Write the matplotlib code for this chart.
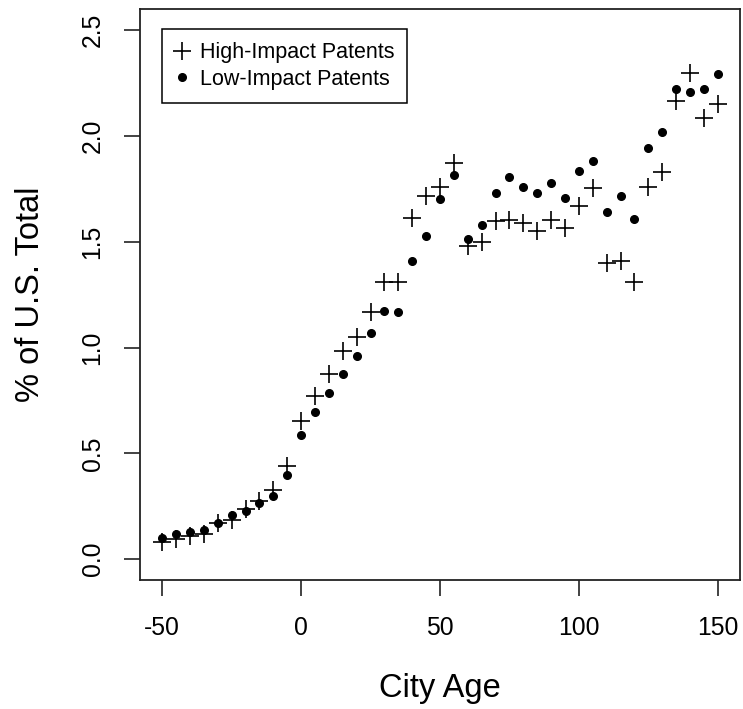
import matplotlib
matplotlib.use("Agg")
import matplotlib.pyplot as plt
from matplotlib.lines import Line2D

plt.rcParams['font.family'] = ['Liberation Sans', 'DejaVu Sans']

# City age (years), every 5 years
city_age = list(range(-50, 151, 5))

# Share of U.S. total patents (%)
high_impact = [0.083, 0.094, 0.110, 0.120, 0.170, 0.185, 0.236, 0.275, 0.327, 0.440,
               0.652, 0.770, 0.876, 0.986, 1.050, 1.167, 1.308, 1.308, 1.612, 1.717,
               1.761, 1.874, 1.481, 1.500, 1.596, 1.604, 1.588, 1.549, 1.604, 1.564,
               1.671, 1.756, 1.400, 1.410, 1.308, 1.761, 1.829, 2.167, 2.296, 2.086,
               2.150]
low_impact = [0.102, 0.118, 0.126, 0.140, 0.173, 0.209, 0.228, 0.267, 0.300, 0.396,
              0.585, 0.697, 0.786, 0.877, 0.962, 1.067, 1.171, 1.167, 1.407, 1.528,
              1.701, 1.816, 1.514, 1.580, 1.730, 1.808, 1.761, 1.730, 1.777, 1.709,
              1.836, 1.882, 1.640, 1.717, 1.608, 1.942, 2.017, 2.220, 2.206, 2.220,
              2.291]

series_labels = ["High-Impact Patents", "Low-Impact Patents"]
x_ticks = [-50, 0, 50, 100, 150]
y_ticks = [0.0, 0.5, 1.0, 1.5, 2.0, 2.5]
y_tick_labels = ["0.0", "0.5", "1.0", "1.5", "2.0", "2.5"]

W, H = 743, 709
fig = plt.figure(figsize=(W / 100, H / 100), dpi=100)
ax = fig.add_axes([140 / W, 1 - 580.3 / H, 600 / W, 571.3 / H])

ax.plot(city_age, high_impact, linestyle='none', marker='+', markersize=13,
        markeredgewidth=1.2, color='black', label=series_labels[0])
ax.plot(city_age, low_impact, linestyle='none', marker='o', markersize=5.5,
        color='black', label=series_labels[1])

ax.set_xlim(-58, 158)
ax.set_ylim(-0.1, 2.6)

for s in ax.spines.values():
    s.set_linewidth(1.3)
    s.set_color('#222222')

ax.set_xticks(x_ticks)
ax.set_xticklabels([str(t) for t in x_ticks])
ax.set_yticks(y_ticks)
ax.set_yticklabels(y_tick_labels)
ax.tick_params(axis='both', direction='out', length=11.5, width=1.2,
               color='#222222', labelsize=17.8, pad=14)
ax.tick_params(axis='y', labelrotation=90)
for lab in ax.get_yticklabels():
    lab.set_va('center')

ax.set_xlabel("City Age", fontsize=23.5)
ax.xaxis.label.set_va('center')
ax.xaxis.set_label_coords(0.5, (580.3 - 688) / 571.3)
ax.set_ylabel("% of U.S. Total", fontsize=23.5)
ax.yaxis.label.set_va('center')
ax.yaxis.set_label_coords((30 - 140) / 600, 0.5)

handles = [
    Line2D([], [], linestyle='none', marker='+', markersize=13,
           markeredgewidth=1.2, color='black'),
    Line2D([], [], linestyle='none', marker='o', markersize=5.5, color='black'),
]
leg = ax.legend(handles, series_labels, loc='upper left',
                bbox_to_anchor=((161.7 - 140) / 600, (580.3 - 29.3) / 571.3),
                fontsize=15.5, frameon=True, fancybox=False, framealpha=1,
                edgecolor='black', borderpad=0.6, handlelength=0.7,
                handletextpad=0.47, labelspacing=0.25, borderaxespad=0)
leg.get_frame().set_linewidth(1.1)

fig.savefig("out.png", dpi=100)
